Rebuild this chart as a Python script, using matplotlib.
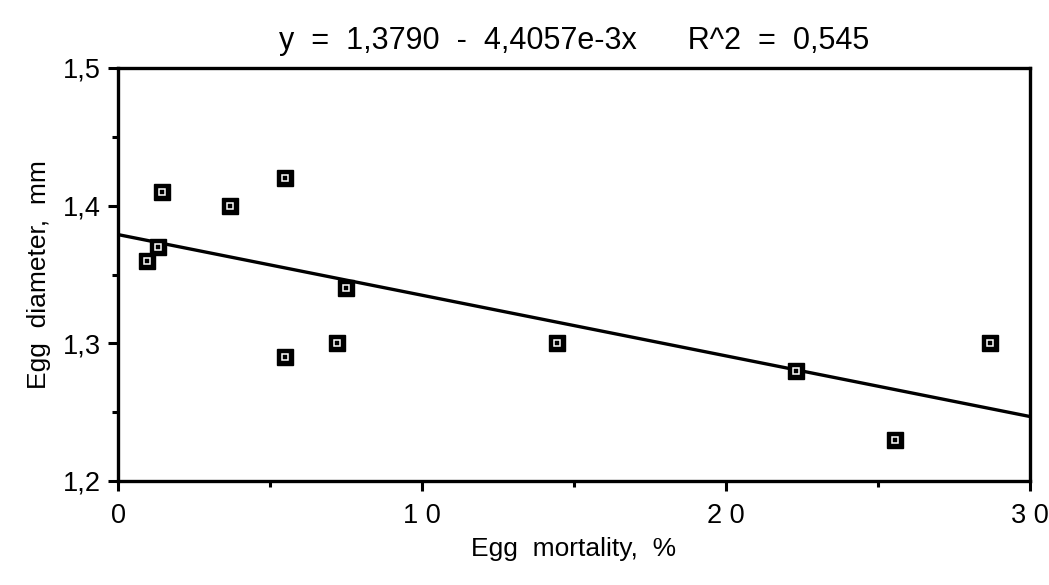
import matplotlib
matplotlib.use("Agg")
import matplotlib.pyplot as plt
import numpy as np

plt.rcParams['font.family'] = ['Liberation Sans', 'DejaVu Sans']

mortality = [0.95, 1.3, 1.45, 3.7, 5.5, 5.5, 7.2, 7.5, 14.45, 22.3, 25.55, 28.7]
diameter = [1.36, 1.37, 1.41, 1.40, 1.42, 1.29, 1.30, 1.34, 1.30, 1.28, 1.23, 1.30]
intercept = 1.3790
slope = -4.4057e-3
x_ticks = [0, 10, 20, 30]
x_tick_labels = ["0", "1 0", "2 0", "3 0"]
y_ticks = [1.2, 1.3, 1.4, 1.5]
y_tick_labels = ["1,2", "1,3", "1,4", "1,5"]
title = "y  =  1,3790  -  4,4057e-3x      R^2  =  0,545"
x_label = "Egg  mortality,  %"
y_label = "Egg  diameter,  mm"

fig = plt.figure(figsize=(10.49, 5.85), dpi=100)
ax = fig.add_axes([118/1049, 1-481/585, (1030-118)/1049, (481-68)/585])

xl = np.array([0, 30])
ax.plot(xl, intercept + slope * xl, color='black', lw=2.4, zorder=2)
ax.plot(mortality, diameter, ls='none', marker='s', ms=11, mfc='black', mec='black', zorder=3)
ax.plot(mortality, diameter, ls='none', marker='s', ms=4, mfc='black', mec='white', mew=1.1, zorder=4)

ax.set_xlim(0, 30)
ax.set_ylim(1.2, 1.5)
ax.set_xticks(x_ticks)
ax.set_xticklabels(x_tick_labels, fontsize=19.5)
ax.set_xticks([5, 15, 25], minor=True)
ax.set_yticks(y_ticks)
ax.set_yticklabels(y_tick_labels, fontsize=19.5)
ax.set_yticks([1.25, 1.35, 1.45], minor=True)
ax.tick_params(axis='both', which='major', direction='out', length=7.5, width=2.2)
ax.tick_params(axis='x', which='major', pad=8)
ax.tick_params(axis='y', which='major', pad=5)
ax.tick_params(axis='both', which='minor', direction='out', length=4, width=2.2)
for s in ax.spines.values():
    s.set_linewidth(2.4)

ax.set_xlabel(x_label, fontsize=19, labelpad=6)
ax.set_ylabel(y_label, fontsize=19, labelpad=8)
ax.set_title(title, fontsize=22, pad=14)

fig.savefig("out.png", dpi=100)
